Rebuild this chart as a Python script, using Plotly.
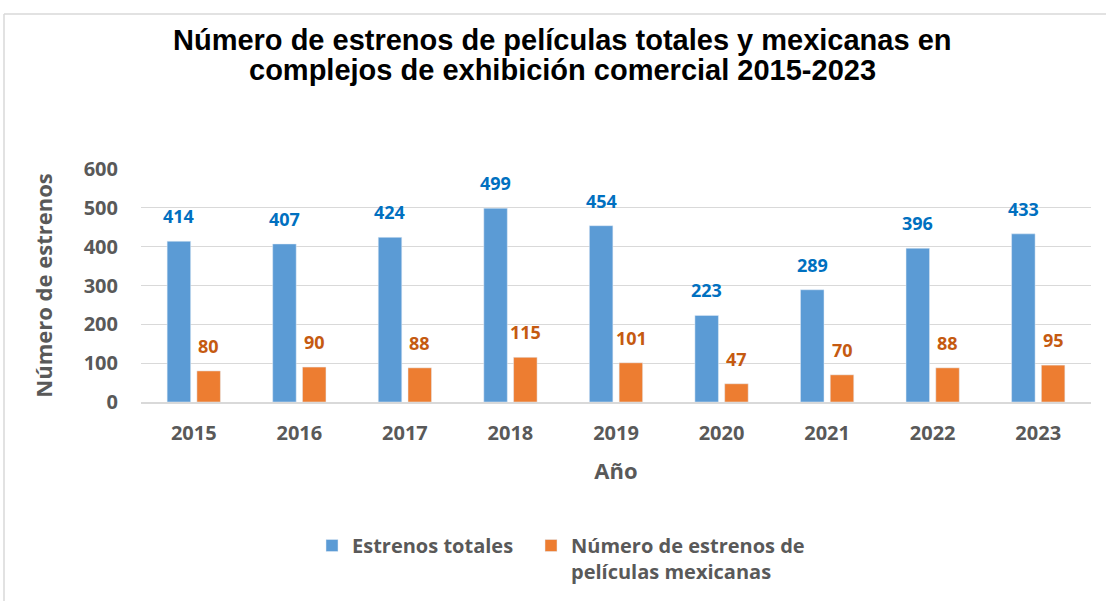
import plotly.graph_objects as go

years = ["2015", "2016", "2017", "2018", "2019", "2020", "2021", "2022", "2023"]
totales = [414, 407, 424, 499, 454, 223, 289, 396, 433]
mexicanas = [80, 90, 88, 115, 101, 47, 70, 88, 95]

name_tot = "Estrenos totales"
name_mex = "Número de estrenos de<br>películas mexicanas"
title_lines = ["Número de estrenos de películas totales y mexicanas en",
               "complejos de exhibición comercial 2015-2023"]

BLUE = "#5B9BD5"
ORANGE = "#ED7D31"
GREY = "#595959"
FONT = "'Open Sans', Lato, sans-serif"
W, H = 1106, 601
L, R, T, B = 141, 15, 169, 199
PW, PH = W - L - R, H - T - B

fig = go.Figure()
fig.add_trace(go.Bar(x=years, y=totales, name=name_tot, marker_color=BLUE, legend="legend"))
fig.add_trace(go.Bar(x=years, y=mexicanas, name=name_mex, marker_color=ORANGE, legend="legend2"))

for i, v in enumerate(totales):
    fig.add_annotation(x=i, y=v, xref="x", yref="y", text=str(v), showarrow=False,
                       xshift=-15, yshift=25,
                       font=dict(family=FONT, size=18, color="#0070C0", weight="bold"))
for i, v in enumerate(mexicanas):
    fig.add_annotation(x=i, y=v, xref="x", yref="y", text=str(v), showarrow=False,
                       xshift=15, yshift=25,
                       font=dict(family=FONT, size=18, color="#C55A11", weight="bold"))

# title as two centered lines
for i, line in enumerate(title_lines):
    fig.add_annotation(xref="paper", yref="paper", x=(562 - L) / PW,
                       y=(H - B - (40 + 30 * i)) / PH, text=line, showarrow=False,
                       xanchor="center", yanchor="middle",
                       font=dict(family="Liberation Sans, Arial, sans-serif", size=29,
                                 color="black", weight="bold"))

# chart border (top and left)
ytop = (H - B - 14) / PH
xleft = (4 - L) / PW
fig.add_shape(type="line", xref="paper", yref="paper", x0=xleft, x1=(W + 5 - L) / PW,
              y0=ytop, y1=ytop, line=dict(color="#D9D9D9", width=1.5))
fig.add_shape(type="line", xref="paper", yref="paper", x0=xleft, x1=xleft,
              y0=-(B + 5) / PH, y1=ytop, line=dict(color="#D9D9D9", width=1.5))

legfont = dict(family=FONT, size=20, color=GREY, weight="bold")
fig.update_layout(
    width=W, height=H,
    margin=dict(l=L, r=R, t=T, b=B),
    plot_bgcolor="white", paper_bgcolor="white",
    barmode="group", bargap=0.436, bargroupgap=0.21,
    xaxis=dict(type="category", range=[-0.5, 8.5], autorange=False,
               showgrid=False, showline=True, linecolor="#D9D9D9", linewidth=1.5,
               ticks="", ticklabelstandoff=12,
               tickfont=dict(family=FONT, size=20, color=GREY, weight="bold"),
               title=dict(text="Año", standoff=19,
                          font=dict(family=FONT, size=22, color=GREY, weight="bold"))),
    yaxis=dict(range=[0, 600], dtick=100, showgrid=True, gridcolor="#D9D9D9", gridwidth=1.3,
               zeroline=False, ticks="", ticklabelstandoff=22,
               tickfont=dict(family=FONT, size=20, color=GREY, weight="bold"),
               title=dict(text="Número de estrenos", standoff=24,
                          font=dict(family=FONT, size=22, color=GREY, weight="bold"))),
    legend=dict(orientation="h", xref="container", yref="container",
                x=312 / W, xanchor="left", y=1 - 526 / H, yanchor="top",
                valign="top", font=legfont),
    legend2=dict(orientation="h", xref="container", yref="container",
                 x=531 / W, xanchor="left", y=1 - 526 / H, yanchor="top",
                 valign="top", font=legfont),
    showlegend=True,
)

fig.write_html("out.html", config={"displayModeBar": False},
               post_script="document.body.style.margin='0';")
